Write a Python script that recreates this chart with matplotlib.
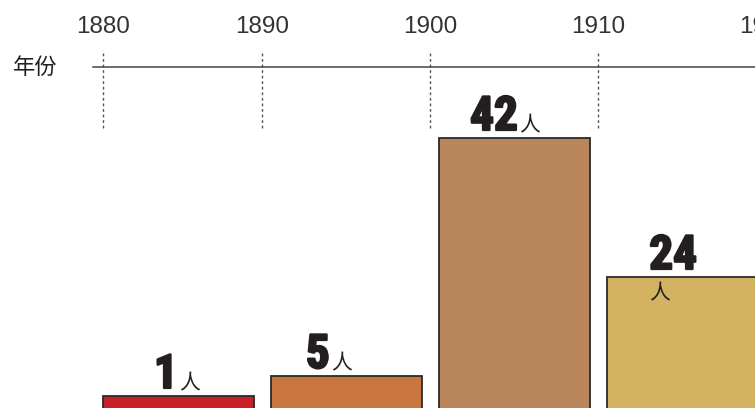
import numpy as np
import matplotlib
matplotlib.use('Agg')
import matplotlib.pyplot as plt
import matplotlib.patheffects as pe
from matplotlib import font_manager

plt.rcParams['font.family'] = ['Noto Sans CJK SC', 'DejaVu Sans']

# data
decades = [1880, 1890, 1900, 1910]
counts = [1, 5, 42, 24]
unit = '人'
# drawn bar heights are not proportional to counts in the original graphic
bar_levels = [12, 32, 270, 131]
tick_years = [1880, 1890, 1900, 1910, 1920]
axis_title = '年份'

colors = ['#c91f26', '#c8763e', '#b9865b', '#d3b262']
label_nudge = [-1, -17, 3, 0]   # px, to follow the original layout

# pick a condensed face for the big numbers if one is installed
names = {f.name for f in font_manager.fontManager.ttflist}
cands = ['Liberation Sans Narrow', 'Roboto Condensed', 'Open Sans Condensed',
         'DejaVu Sans Condensed', 'Noto Sans Condensed', 'DejaVu Sans']
num_family = next(n for n in cands if n in names)
print('numbers font:', num_family, sorted(n for n in names if 'ondens' in n or 'arrow' in n))

px_per_year = 16.8
x0 = 1890 - 262 / px_per_year
W, H = 755, 408

fig = plt.figure(figsize=(W / 100, H / 100), dpi=100)
ax = fig.add_axes([0, 0, 1, 1])
ax.set_xlim(x0, x0 + W / px_per_year)
ax.set_ylim(0, H)
ax.axis('off')

num_font = dict(family=[num_family, 'DejaVu Sans'], fontstretch='condensed',
                fontweight='bold', fontsize=34, color='#231f20')
stroke = [pe.withStroke(linewidth=1.6, foreground='#231f20')]

for i, (d, c, lv) in enumerate(zip(decades, counts, bar_levels)):
    left = d + 0.55
    ax.bar(left, lv + 20, bottom=-20, width=9.0, align='edge',
           color=colors[i], edgecolor='#2a2a2a', linewidth=1.3, zorder=2)
    cx = left + 4.5 + label_nudge[i] / px_per_year
    if i == len(decades) - 1:
        t = ax.text(left + 2.5, lv + 8, str(c), ha='left', va='baseline', **num_font)
        t.set_path_effects(stroke)
        ax.text(left + 2.5, lv - 16, unit, ha='left', va='center',
                fontsize=15, color='#231f20')
    else:
        t = ax.text(cx, lv + 8, str(c), ha='right', va='baseline', **num_font)
        t.set_path_effects(stroke)
        ax.text(cx + 0.05, lv + 7, unit, ha='left', va='baseline',
                fontsize=15, color='#231f20')

# year header
y_line = H - 67
ax.plot([x0 + 93 / px_per_year, x0 + W / px_per_year], [y_line, y_line],
        color='#444444', linewidth=1.1, clip_on=False)
for k, yr in enumerate(tick_years):
    xt = yr + (0.55 if k == 0 else 0)
    ax.plot([xt, xt], [H - 128, H - 50], color='#555555', linewidth=1.0,
            linestyle=(0, (2, 2)), zorder=1)
    ax.text(xt, H - 27, str(yr), ha='center', va='center', fontsize=17.5,
            color='#333333', family=['Liberation Sans', 'DejaVu Sans'])

fig.text(13 / W, 1 - 67 / H, axis_title, ha='left', va='center',
         fontsize=16, color='#231f20')

fig.savefig('out.png', dpi=100)
